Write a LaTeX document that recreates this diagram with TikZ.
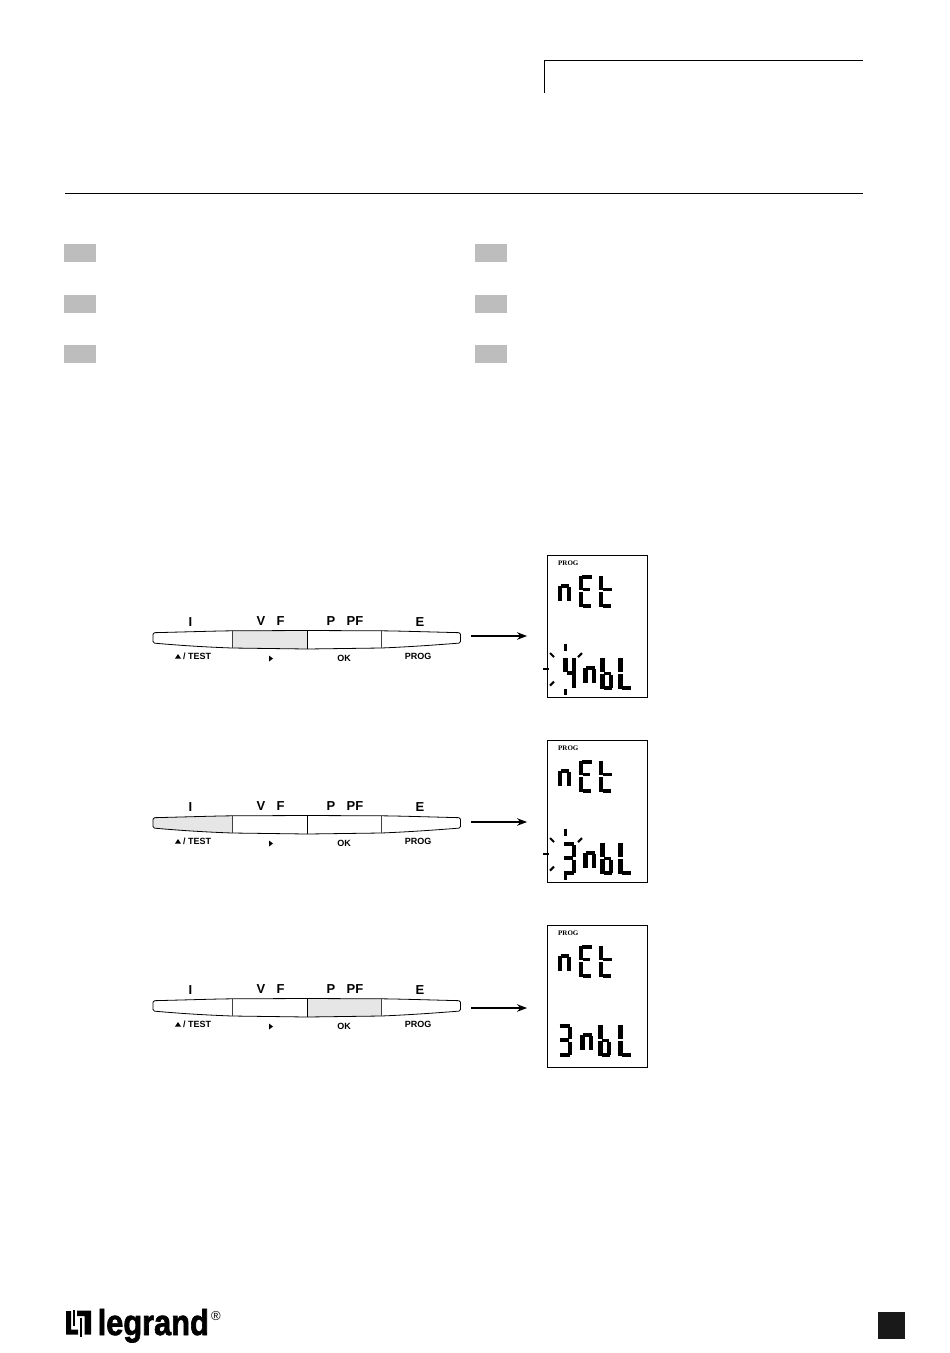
\documentclass[tikz,border=0pt]{standalone}
\usepackage{fontspec}
\setmainfont{Liberation Sans}
\newfontfamily\lcdserif{Liberation Serif}
\newfontfamily\logofont[FakeBold=2]{Liberation Sans Bold}
\usetikzlibrary{arrows.meta}
\definecolor{keyfill}{HTML}{E6E6E6}
\definecolor{tabfill}{HTML}{BDBDBD}
\tikzset{
  segv/.style={line width=4.2pt,line cap=butt,black},
  segh/.style={line width=3.9pt,line cap=butt,black},
  tick/.style={line width=2.1pt,line cap=butt,black},
  keylabel/.style={font=\bfseries\fontsize{13}{14}\selectfont,inner sep=0pt},
  keysub/.style={font=\bfseries\fontsize{9}{10}\selectfont,inner sep=0pt},
  lcdbox/.style={draw=black,line width=0.9pt,minimum width=100pt,minimum height=142pt,inner sep=0pt,fill=white},
  tabbox/.style={fill=tabfill,minimum width=32pt,minimum height=18pt,inner sep=0pt},
  keyarrow/.style={line width=1.4pt,-{Stealth[length=10pt,width=7.5pt]}},
  stripanchor/.style={minimum width=309pt,minimum height=18pt,inner sep=0pt},
  prog/.style={font=\lcdserif\bfseries\fontsize{7}{8}\selectfont,inner sep=0pt,anchor=west},
}
% seven-segment pieces, centre-line width 8.6, height 29
\newcommand\sega{\draw[segh] (0.6,0)--(10.4,0);}
\newcommand\segf{\draw[segv] (0,-1.4)--(0,13);}
\newcommand\segb{\draw[segv] (8.6,1.4)--(8.6,13);}
\newcommand\segg{\draw[segh] (1.4,14)--(7,14);}
\newcommand\sege{\draw[segv] (0,15)--(0,29.8);}
\newcommand\segc{\draw[segv] (8.6,15.6)--(8.6,29);}
\newcommand\segd{\draw[segh] (1.4,29)--(9.4,29);}
\newcommand\gN{\draw[segh] (0.6,9)--(9,9);\draw[segv] (0,9)--(0,24);\draw[segv] (8.6,10)--(8.6,24);}
\newcommand\gE{\sega\segf\draw[segh] (1.4,12.5)--(9,12.5);\sege\segd}
\newcommand\gT{\segf\draw[segh] (1.4,12.5)--(10.6,12.5);\sege\segd}
\newcommand\gFour{\segf\draw[segv] (8.6,-1.4)--(8.6,13);\segc\draw[segh] (1.4,14)--(10.4,14);}
\newcommand\gThree{\draw[segh] (-1.8,0)--(8.2,0);\segb\draw[segh] (-1.4,14)--(7,14);\segc\draw[segh] (-1.8,29)--(8.2,29);}
\newcommand\gB{\segf\sege\segd\segc\draw[segh] (1.4,14.5)--(8.6,14.5);}
\newcommand\gL{\segf\sege\draw[segh] (1.4,29)--(10.4,29);}
\newcommand\glyphat[3]{\begin{scope}[shift={(#1,#2)}]#3\end{scope}}
% #1 top of LCD, #2 digit, #3 #4 #5 #6 x of lower glyphs, #7 y offset of lower row
\newcommand\lcdtext[7]{%
  \glyphat{560.2}{#1+22}{\gN}%
  \glyphat{581.2}{#1+22}{\gE}%
  \glyphat{601.2}{#1+22}{\gT}%
  \glyphat{#3}{#1+#7}{#2}%
  \glyphat{#4}{#1+#7}{\gN}%
  \glyphat{#5}{#1+#7}{\gB}%
  \glyphat{#6}{#1+#7}{\gL}%
}
\newcommand\blink[1]{%
  \begin{scope}[shift={(0,#1)}]
  \draw[tick] (565.5,88.5)--(565.5,95.5);
  \draw[tick] (550,98)--(554,102);
  \draw[tick] (582,98)--(578,102);
  \draw[tick] (543,114)--(549,114);
  \draw[tick] (550,130.5)--(554,126.5);
  \draw[tick] (565.5,133.5)--(565.5,140);
  \end{scope}}
% key strip
\newcommand\keystrip[2]{%
  \begin{scope}[shift={(0,#1)}]
  \ifnum#2=1 \fill[keyfill] (153,632.7) .. controls (190,631.8) and (215,631) .. (232,630.8) -- (232,648) .. controls (200,646.8) and (175,645) .. (153,643) -- cycle;\fi
  \ifnum#2=2 \fill[keyfill] (232,630.8) -- (307,630.5) -- (307,649) -- (232,648) -- cycle;\fi
  \ifnum#2=3 \fill[keyfill] (307,630.5) -- (381,630.8) -- (381,648) -- (307,649) -- cycle;\fi
  \draw[line width=0.8pt,black,rounded corners=1.5pt] (153,632.7) .. controls (190,631.8) and (215,631) .. (232,630.8) -- (307,630.5) -- (381,630.8) .. controls (400,631) and (425,631.8) .. (460.5,632.7) -- (460.5,643) .. controls (435,645) and (410,646.8) .. (381,648) -- (307,649) -- (232,648) .. controls (200,646.8) and (175,645) .. (153,643) -- cycle;
  \draw[line width=0.8pt,black!75] (232,630.8)--(232,648);
  \draw[line width=0.8pt,black] (307,630.5)--(307,649);
  \draw[line width=0.8pt,black!75] (381,630.8)--(381,648);
  \node[keylabel] (i#1) at (190.5,622) {I};
  \node[keylabel] (v#1) at (261,621.5) {V};
  \node[keylabel] (f#1) at (280.5,621.5) {F};
  \node[keylabel] (p#1) at (331,621.5) {P};
  \node[keylabel] (pf#1) at (355,621.5) {PF};
  \node[keylabel] (e#1) at (420,622) {E};
  \fill (175,658.5)--(181,658.5)--(178,654)--cycle;
  \node[keysub,anchor=west] (t#1) at (183,656.5) {/ TEST};
  \fill (269,655.5)--(269,661.5)--(273,658.5)--cycle;
  \node[keysub] (ok#1) at (344,658) {OK};
  \node[keysub] (pg#1) at (418,656) {PROG};
  \end{scope}}
\begin{document}
\begin{tikzpicture}[x=1pt,y=-1pt]
\useasboundingbox (0,0) rectangle (950,1353);
\fill[white] (0,0) rectangle (950,1353);
% header
\draw[line width=0.7pt] (544.6,93)--(544.6,60.5)--(863,60.5);
\draw[line width=0.7pt] (65,193.5)--(863,193.5);
% grey tabs
\node[tabbox] (ta) at (80,253) {};
\node[tabbox] (tb) at (80,304) {};
\node[tabbox] (tc) at (80,354) {};
\node[tabbox] (td) at (491,253) {};
\node[tabbox] (te) at (491,304) {};
\node[tabbox] (tf) at (491,354) {};
% key strips
\keystrip{0}{2}
\keystrip{185}{1}
\keystrip{368}{3}
% LCDs
\node[lcdbox] (lcda) at (597.5,626) {};
\node[lcdbox] (lcdb) at (597.5,811) {};
\node[lcdbox] (lcdc) at (597.5,996) {};
\node[prog] (pa) at (558,563.5) {PROG};
\node[prog] (pb) at (558,748.5) {PROG};
\node[prog] (pc) at (558,933) {PROG};
\lcdtext{555}{\gFour}{565.5}{585.5}{602.5}{620.5}{104}
\lcdtext{740}{\gThree}{565.5}{585.5}{602.5}{620.5}{104}
\lcdtext{925}{\gThree}{561.5}{582.5}{600.5}{620.5}{101}
\blink{555}
\blink{740}
% arrows
\node[stripanchor] (stripa) at (306.5,636) {};
\node[stripanchor] (stripb) at (306.5,822) {};
\node[stripanchor] (stripc) at (306.5,1008) {};
\draw[keyarrow] ([xshift=10pt]stripa.east) -- ([xshift=-20pt]stripa.east -| lcda.west);
\draw[keyarrow] ([xshift=10pt]stripb.east) -- ([xshift=-20pt]stripb.east -| lcdb.west);
\draw[keyarrow] ([xshift=10pt]stripc.east) -- ([xshift=-20pt]stripc.east -| lcdc.west);
% logo
\fill[black] (66,1311)--(71,1311)--(71,1329.5)--(78,1329.5)--(78,1334.5)--(66,1334.5)--cycle;
\fill[black] (73,1309.5)--(75,1309.5)--(75,1326)--(73,1326)--cycle;
\fill[black] (77,1310.5)--(91,1310.5)--(91,1334.5)--(84.5,1334.5)--(84.5,1316)--(77,1316)--cycle;
\fill[black] (80,1318)--(82,1318)--(82,1337)--(80,1337)--cycle;
\node[anchor=base west,inner sep=0pt,font=\logofont\fontsize{36}{36}\selectfont,xscale=0.855] (logo) at (97.5,1335) {legrand};
\node[inner sep=0pt,font=\fontsize{13}{13}\selectfont] (reg) at (216,1316) {®};
% page mark
\fill[black!90] (878,1312) rectangle (905,1339);
\end{tikzpicture}
\end{document}
